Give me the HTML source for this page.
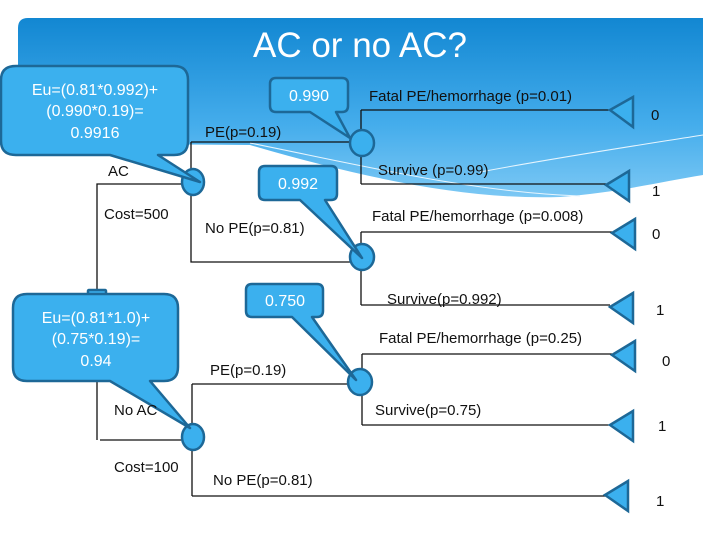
<!DOCTYPE html>
<html><head><meta charset="utf-8"><style>
html,body{margin:0;padding:0;background:#fff;}
svg{display:block;font-family:"Liberation Sans",sans-serif;}
</style></head><body>
<svg width="720" height="540" viewBox="0 0 720 540" xmlns="http://www.w3.org/2000/svg">
<defs>
<linearGradient id="hg" x1="0" y1="0" x2="0" y2="1">
<stop offset="0" stop-color="#1287d2"/><stop offset="0.6" stop-color="#45adec"/><stop offset="1" stop-color="#7cc8f4"/>
</linearGradient>
</defs>
<path d="M28 18 H703 V175 C660 182 620 192 560 197 C470 200 370 180 250 145 L18 143 V28 Q18 18 28 18Z" fill="url(#hg)"/>
<path d="M250 143 C360 165 470 192 580 196" stroke="#e6f5fe" stroke-width="1" fill="none"/>
<path d="M480 172 C560 157 640 145 703 135" stroke="#e6f5fe" stroke-width="1" fill="none"/>
<text x="360" y="57" font-size="35" fill="#fff" text-anchor="middle">AC or no AC?</text>

<g stroke="#111" stroke-width="1.3" fill="none">
<path d="M97 440 V184 H193"/>
<path d="M100 440 H193"/>
<path d="M191 142 V262 H355"/>
<path d="M191 142 H350"/>
<path d="M361 110 V184"/>
<path d="M361 110 H612 M361 184 H606"/>
<path d="M361 232 V305"/>
<path d="M361 232 H612 M361 305 H610"/>
<path d="M362 354 V425"/>
<path d="M362 354 H612 M362 425 H610"/>
<path d="M192 384 V496"/>
<path d="M192 384 H352 M192 496 H606"/>
</g>

<g fill="#3bb0ee" stroke="#1d6897" stroke-width="2.5">
<polygon points="610,110 633,97 633,127"/>
<polygon points="606,185 629,171 629,201"/>
<polygon points="612,233 635,219 635,249"/>
<polygon points="610,307 633,293 633,323"/>
<polygon points="612,355 635,341 635,371"/>
<polygon points="610,425 633,411 633,441"/>
<polygon points="605,495 628,481 628,511"/>
<ellipse cx="193" cy="182" rx="11" ry="13"/>
<ellipse cx="362" cy="143" rx="12" ry="13"/>
<ellipse cx="362" cy="257" rx="12" ry="13"/>
<ellipse cx="360" cy="382" rx="12" ry="13"/>
<ellipse cx="193" cy="437" rx="11" ry="13"/>
<rect x="88" y="290" width="18" height="5" rx="1"/>
</g>

<g fill="#3bb0ee" stroke="#1d6897" stroke-width="2.5" stroke-linejoin="round">
<path d="M16 66 H174 Q188 66 188 80 V141 Q188 155 174 155 H158 L200 182 L110 155 H16 Q1 155 1 141 V80 Q1 66 16 66Z"/>
<path d="M276 78 H342 Q348 78 348 84 V106 Q348 112 342 112 H336 L350 138 L310 112 H276 Q270 112 270 106 V84 Q270 78 276 78Z"/>
<path d="M265 166 H331 Q337 166 337 172 V194 Q337 200 331 200 H325 L362 258 L300 200 H265 Q259 200 259 194 V172 Q259 166 265 166Z"/>
<path d="M252 284 H317 Q323 284 323 290 V311 Q323 317 317 317 H312 L356 380 L292 317 H252 Q246 317 246 311 V290 Q246 284 252 284Z"/>
<path d="M27 294 H164 Q178 294 178 308 V367 Q178 381 164 381 H150 L190 428 L110 381 H27 Q13 381 13 367 V308 Q13 294 27 294Z"/>
</g>

<g fill="#fff" font-size="16" text-anchor="middle">
<text x="95" y="95">Eu=(0.81*0.992)+</text>
<text x="95" y="116">(0.990*0.19)=</text>
<text x="95" y="138">0.9916</text>
<text x="309" y="101">0.990</text>
<text x="298" y="189">0.992</text>
<text x="285" y="306">0.750</text>
<text x="96" y="323">Eu=(0.81*1.0)+</text>
<text x="96" y="344">(0.75*0.19)=</text>
<text x="96" y="366">0.94</text>
</g>

<g fill="#111" font-size="15">
<text x="108" y="176">AC</text>
<text x="104" y="219">Cost=500</text>
<text x="114" y="415">No AC</text>
<text x="114" y="472">Cost=100</text>
<text x="205" y="137">PE(p=0.19)</text>
<text x="205" y="233">No PE(p=0.81)</text>
<text x="210" y="375">PE(p=0.19)</text>
<text x="213" y="485">No PE(p=0.81)</text>
<text x="369" y="101">Fatal PE/hemorrhage (p=0.01)</text>
<text x="378" y="175">Survive (p=0.99)</text>
<text x="372" y="221">Fatal PE/hemorrhage (p=0.008)</text>
<text x="387" y="304">Survive(p=0.992)</text>
<text x="379" y="343">Fatal PE/hemorrhage (p=0.25)</text>
<text x="375" y="415">Survive(p=0.75)</text>
<text x="651" y="120">0</text>
<text x="652" y="196">1</text>
<text x="652" y="239">0</text>
<text x="656" y="315">1</text>
<text x="662" y="366">0</text>
<text x="658" y="431">1</text>
<text x="656" y="506">1</text>
</g>
</svg>
</body></html>
